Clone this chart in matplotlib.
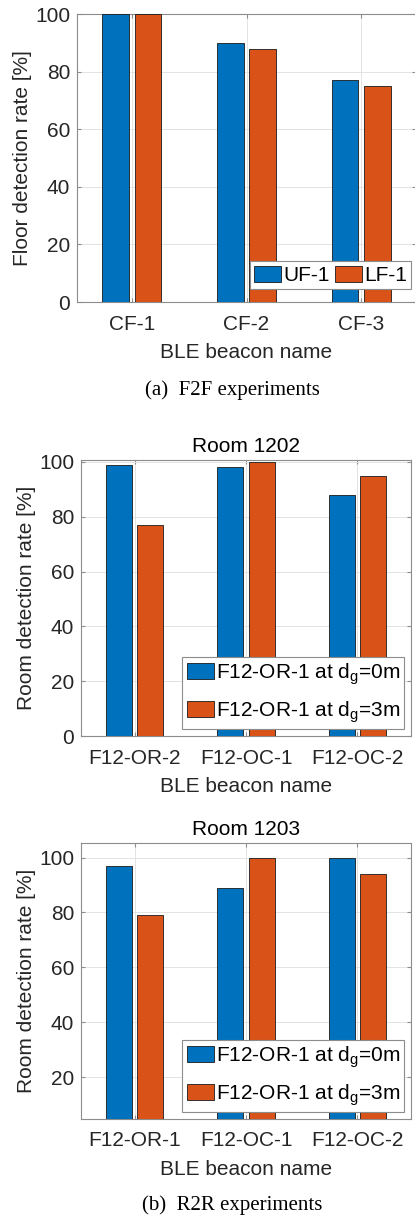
import numpy as np
import matplotlib
matplotlib.use('Agg')
import matplotlib.pyplot as plt

plt.rcParams['font.family'] = ['Liberation Sans', 'DejaVu Sans']
plt.rcParams['mathtext.fontset'] = 'custom'
plt.rcParams['mathtext.rm'] = 'Liberation Sans'
plt.rcParams['mathtext.it'] = 'Liberation Sans'

# data
f2f_names = ['CF-1', 'CF-2', 'CF-3']
f2f_uf = [100, 90, 77]
f2f_lf = [100, 88, 75]
f2f_series = ['UF-1', 'LF-1']

r1202_names = ['F12-OR-2', 'F12-OC-1', 'F12-OC-2']
r1202_d0 = [98.7, 98, 88]
r1202_d3 = [77, 100, 95]

r1203_names = ['F12-OR-1', 'F12-OC-1', 'F12-OC-2']
r1203_d0 = [97, 89, 100]
r1203_d3 = [79, 100, 94]

room_series = [r'F12-OR-1 at d$_{\mathrm{g}}$=0m', r'F12-OR-1 at d$_{\mathrm{g}}$=3m']

BLUE = '#0072BD'
ORANGE = '#D95319'
W, H = 415, 1216
fs = 15


def draw(ax, names, a, b, labels, ylim, ylabel, legpos, title=None):
    x = np.arange(1, len(names) + 1)
    ax.bar(x - 0.14, a, 0.235, color=BLUE, edgecolor='#1a1a1a', lw=0.6, label=labels[0], zorder=3)
    ax.bar(x + 0.14, b, 0.235, color=ORANGE, edgecolor='#1a1a1a', lw=0.6, label=labels[1], zorder=3)
    ax.set_xticks(x)
    ax.set_xticklabels(names)
    ax.set_yticks(np.arange(0, 101, 20))
    ax.set_xlim(0.52, 3.48)
    ax.set_ylim(*ylim)
    ax.grid(True, color='#e3e3e3', lw=0.7, zorder=0)
    ax.set_axisbelow(True)
    for s in ax.spines.values():
        s.set_color('#8c8c8c')
        s.set_linewidth(0.8)
    ax.tick_params(direction='in', length=3, color='#8c8c8c', labelsize=fs,
                   labelcolor='#262626', top=True, right=True)
    ax.tick_params(axis='x', pad=9)
    ax.tick_params(axis='y', pad=5)
    ax.set_xlabel('BLE beacon name', fontsize=fs, color='#262626', labelpad=7)
    ax.set_ylabel(ylabel, fontsize=fs, color='#262626', labelpad=2)
    if title:
        ax.set_title(title, fontsize=fs, color='#000000', pad=6)
    ncol = 2 if len(labels[0]) < 6 else 1
    leg = ax.legend(loc='lower right', bbox_to_anchor=legpos, ncol=ncol, fontsize=fs,
                    frameon=True, fancybox=False, framealpha=1, edgecolor='#8c8c8c',
                    borderaxespad=0, handlelength=1.3, handleheight=0.8,
                    handletextpad=0.1, columnspacing=0.25, borderpad=0.2,
                    labelspacing=0.6)
    leg.get_frame().set_linewidth(0.8)
    for p in leg.get_patches():
        p.set_edgecolor('#1a1a1a')


fig = plt.figure(figsize=(W / 100, H / 100), dpi=100)

ax1 = fig.add_axes([77 / W, (H - 302) / H, 339 / W, 288 / H])
draw(ax1, f2f_names, f2f_uf, f2f_lf, f2f_series, (0, 100),
     'Floor detection rate [%]', (0.985, 0.045))

ax2 = fig.add_axes([81 / W, (H - 736) / H, 330 / W, 276 / H])
draw(ax2, r1202_names, r1202_d0, r1202_d3, room_series, (0, 100.7),
     'Room detection rate [%]', (0.979, 0.025), 'Room 1202')

ax3 = fig.add_axes([81 / W, (H - 1119) / H, 330 / W, 276 / H])
draw(ax3, r1203_names, r1203_d0, r1203_d3, room_series, (4.8, 105.3),
     'Room detection rate [%]', (0.979, 0.025), 'Room 1203')

fig.text(232 / W, 1 - 390 / H, '(a)  F2F experiments', family='Liberation Serif',
         fontsize=15, ha='center', va='center')
fig.text(232 / W, 1 - 1205 / H, '(b)  R2R experiments', family='Liberation Serif',
         fontsize=15, ha='center', va='center')

fig.savefig('out.png', dpi=100)
